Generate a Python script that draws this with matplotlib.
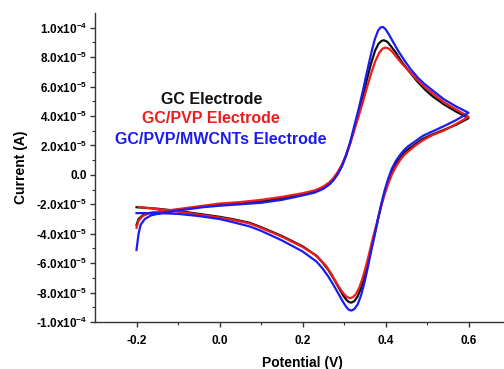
import numpy as np
import matplotlib
matplotlib.use("Agg")
import matplotlib.pyplot as plt

plt.rcParams['font.family'] = ['Liberation Sans', 'DejaVu Sans']
plt.rcParams['font.weight'] = 'bold'
plt.rcParams['mathtext.fontset'] = 'custom'
plt.rcParams['mathtext.rm'] = 'Liberation Sans:bold'
plt.rcParams['mathtext.bf'] = 'Liberation Sans:bold'
plt.rcParams['mathtext.default'] = 'bf'

# currents in units of 1e-5 A
# GC electrode (black)
gc_fwd_v = [-0.200, -0.195, -0.185, -0.170, -0.150, -0.120, -0.080, -0.040, 0.000, 0.050,
            0.100, 0.150, 0.200, 0.230, 0.250, 0.265, 0.275, 0.285, 0.295, 0.305,
            0.315, 0.325, 0.335, 0.345, 0.355, 0.365, 0.375, 0.383, 0.390, 0.396,
            0.404, 0.413, 0.425, 0.440, 0.455, 0.475, 0.495, 0.513, 0.540, 0.570, 0.600]
gc_fwd_i = [-3.40, -3.00, -2.75, -2.60, -2.55, -2.45, -2.30, -2.15, -2.05, -1.95,
            -1.80, -1.60, -1.35, -1.15, -0.90, -0.60, -0.30, 0.10, 0.60, 1.30,
            2.15, 3.15, 4.20, 5.30, 6.45, 7.55, 8.45, 8.90, 9.10, 9.15,
            9.05, 8.75, 8.30, 7.65, 7.10, 6.40, 5.80, 5.35, 4.80, 4.30, 3.85]
gc_rev_v = [0.600, 0.570, 0.540, 0.513, 0.490, 0.470, 0.455, 0.445, 0.435, 0.425,
            0.415, 0.406, 0.398, 0.390, 0.381, 0.373, 0.365, 0.357, 0.349, 0.341,
            0.333, 0.325, 0.318, 0.312, 0.306, 0.298, 0.288, 0.276, 0.262, 0.248,
            0.234, 0.200, 0.150, 0.100, 0.072, 0.030, 0.000, -0.050, -0.100, -0.150, -0.200]
gc_rev_i = [3.85, 3.40, 3.05, 2.75, 2.45, 2.05, 1.75, 1.50, 1.15, 0.75,
            0.20, -0.45, -1.20, -2.05, -3.15, -4.15, -5.10, -6.05, -6.95, -7.70,
            -8.25, -8.58, -8.68, -8.65, -8.50, -8.20, -7.70, -7.10, -6.45, -5.95,
            -5.50, -4.85, -4.15, -3.55, -3.25, -3.00, -2.85, -2.65, -2.45, -2.30, -2.20]

# GC/PVP electrode (red)
pvp_fwd_v = [-0.200, -0.195, -0.185, -0.170, -0.150, -0.120, -0.080, -0.040, 0.000, 0.050,
             0.100, 0.150, 0.200, 0.230, 0.250, 0.265, 0.275, 0.285, 0.295, 0.305,
             0.315, 0.325, 0.335, 0.345, 0.355, 0.365, 0.375, 0.385, 0.393, 0.400,
             0.408, 0.417, 0.428, 0.440, 0.455, 0.475, 0.495, 0.513, 0.540, 0.570, 0.600]
pvp_fwd_i = [-3.60, -3.10, -2.80, -2.60, -2.50, -2.40, -2.25, -2.10, -1.95, -1.85,
             -1.70, -1.50, -1.25, -1.05, -0.80, -0.50, -0.20, 0.20, 0.70, 1.35,
             2.15, 3.05, 3.95, 4.90, 5.90, 6.85, 7.70, 8.30, 8.58, 8.65,
             8.58, 8.35, 7.95, 7.55, 7.10, 6.50, 5.95, 5.55, 4.95, 4.45, 3.95]
pvp_rev_v = [0.600, 0.570, 0.540, 0.513, 0.490, 0.470, 0.455, 0.445, 0.435, 0.425,
             0.415, 0.406, 0.396, 0.387, 0.378, 0.369, 0.361, 0.353, 0.345, 0.337,
             0.329, 0.321, 0.314, 0.307, 0.300, 0.292, 0.282, 0.270, 0.256, 0.242,
             0.228, 0.200, 0.150, 0.100, 0.072, 0.030, 0.000, -0.050, -0.100, -0.150, -0.195]
pvp_rev_i = [3.95, 3.45, 3.00, 2.70, 2.35, 1.95, 1.60, 1.35, 1.00, 0.55,
             0.00, -0.65, -1.50, -2.40, -3.40, -4.35, -5.30, -6.20, -7.00, -7.65,
             -8.10, -8.32, -8.38, -8.30, -8.10, -7.80, -7.35, -6.75, -6.15, -5.75,
             -5.40, -4.90, -4.20, -3.60, -3.30, -3.05, -2.90, -2.70, -2.50, -2.32, -2.18]

# GC/PVP/MWCNTs electrode (blue)
cnt_fwd_v = [-0.200, -0.195, -0.190, -0.180, -0.165, -0.140, -0.120, -0.080, -0.040, 0.000,
             0.050, 0.100, 0.150, 0.200, 0.230, 0.250, 0.265, 0.275, 0.285, 0.295,
             0.305, 0.315, 0.325, 0.335, 0.345, 0.355, 0.365, 0.374, 0.382, 0.388,
             0.394, 0.400, 0.408, 0.418, 0.430, 0.445, 0.460, 0.478, 0.495, 0.513,
             0.540, 0.570, 0.600]
cnt_fwd_i = [-5.10, -4.00, -3.40, -3.00, -2.75, -2.60, -2.50, -2.35, -2.20, -2.10,
             -2.00, -1.90, -1.70, -1.40, -1.20, -0.95, -0.65, -0.35, 0.05, 0.60,
             1.35, 2.25, 3.35, 4.45, 5.65, 6.95, 8.20, 9.20, 9.80, 10.02,
             10.05, 9.90, 9.55, 9.05, 8.45, 7.80, 7.20, 6.60, 6.15, 5.75,
             5.15, 4.65, 4.22]
cnt_rev_v = [0.600, 0.570, 0.540, 0.513, 0.490, 0.470, 0.455, 0.445, 0.435, 0.425,
             0.415, 0.406, 0.398, 0.390, 0.381, 0.373, 0.365, 0.357, 0.349, 0.341,
             0.333, 0.325, 0.318, 0.312, 0.306, 0.298, 0.288, 0.276, 0.262, 0.248,
             0.234, 0.200, 0.150, 0.100, 0.072, 0.030, 0.000, -0.050, -0.100, -0.150, -0.200]
cnt_rev_i = [4.22, 3.72, 3.30, 2.95, 2.65, 2.25, 1.95, 1.70, 1.35, 0.95,
             0.40, -0.30, -1.05, -1.95, -3.10, -4.20, -5.25, -6.35, -7.35, -8.20,
             -8.80, -9.12, -9.22, -9.18, -9.00, -8.65, -8.15, -7.55, -6.90, -6.35,
             -5.90, -5.20, -4.45, -3.80, -3.50, -3.20, -3.00, -2.80, -2.65, -2.60, -2.60]

labels = ['GC Electrode', 'GC/PVP Electrode', 'GC/PVP/MWCNTs Electrode']
colors = ['#111111', '#ee1c1c', '#1c1cee']

x_major = [-0.2, 0.0, 0.2, 0.4, 0.6]
x_minor = [-0.1, 0.1, 0.3, 0.5]
y_major = np.arange(-10, 11, 2) * 1e-5
y_minor = np.arange(-9, 11, 2) * 1e-5
y_labels = ['-1.0x10$^{-4}$', '-8.0x10$^{-5}$', '-6.0x10$^{-5}$', '-4.0x10$^{-5}$',
            '-2.0x10$^{-5}$', '0.0', '2.0x10$^{-5}$', '4.0x10$^{-5}$',
            '6.0x10$^{-5}$', '8.0x10$^{-5}$', '1.0x10$^{-4}$']


fig = plt.figure(figsize=(5.04, 3.69), dpi=100)
ax = fig.add_axes([95/504, 47/369, 415/504, 309/369])

curves = [(gc_fwd_v, gc_fwd_i, gc_rev_v, gc_rev_i),
          (pvp_fwd_v, pvp_fwd_i, pvp_rev_v, pvp_rev_i),
          (cnt_fwd_v, cnt_fwd_i, cnt_rev_v, cnt_rev_i)]
for (fv, fi, rv, ri), c in zip(curves, colors):
    v = np.array(fv + rv)
    i = np.array(fi + ri) * 1e-5
    ax.plot(v, i, color=c, lw=1.6, solid_joinstyle='round')

ax.set_xlim(-0.3, 0.7)
ax.set_ylim(-1.0e-4, 1.1e-4)
ax.spines['top'].set_visible(False)
ax.spines['right'].set_visible(False)
for s in ['left', 'bottom']:
    ax.spines[s].set_linewidth(1.0)
    ax.spines[s].set_color('#333333')

ax.set_xticks(x_major)
ax.set_xticklabels(['-0.2', '0.0', '0.2', '0.4', '0.6'])
ax.set_xticks(x_minor, minor=True)
ax.set_yticks(y_major)
ax.set_yticklabels(y_labels)
ax.set_yticks(y_minor, minor=True)
ax.tick_params(which='major', direction='out', length=3.5, width=1.0, labelsize=8.5, color='#333333', pad=2)
ax.tick_params(axis='x', which='major', pad=6)
ax.tick_params(which='minor', direction='out', length=2, width=0.8, color='#333333')

ax.set_xlabel('Potential (V)', fontsize=10, fontweight='bold', labelpad=6)
ax.set_ylabel('Current (A)', fontsize=10, fontweight='bold', labelpad=6)

# legend text placed as in the reference
ax.text(-0.019, 5.1e-5, labels[0], color=colors[0], fontsize=11.5, fontweight='bold', ha='center', va='center')
ax.text(-0.021, 3.8e-5, labels[1], color=colors[1], fontsize=11.5, fontweight='bold', ha='center', va='center')
ax.text(0.002, 2.38e-5, labels[2], color=colors[2], fontsize=11.5, fontweight='bold', ha='center', va='center')

fig.savefig('out.png', dpi=100)
